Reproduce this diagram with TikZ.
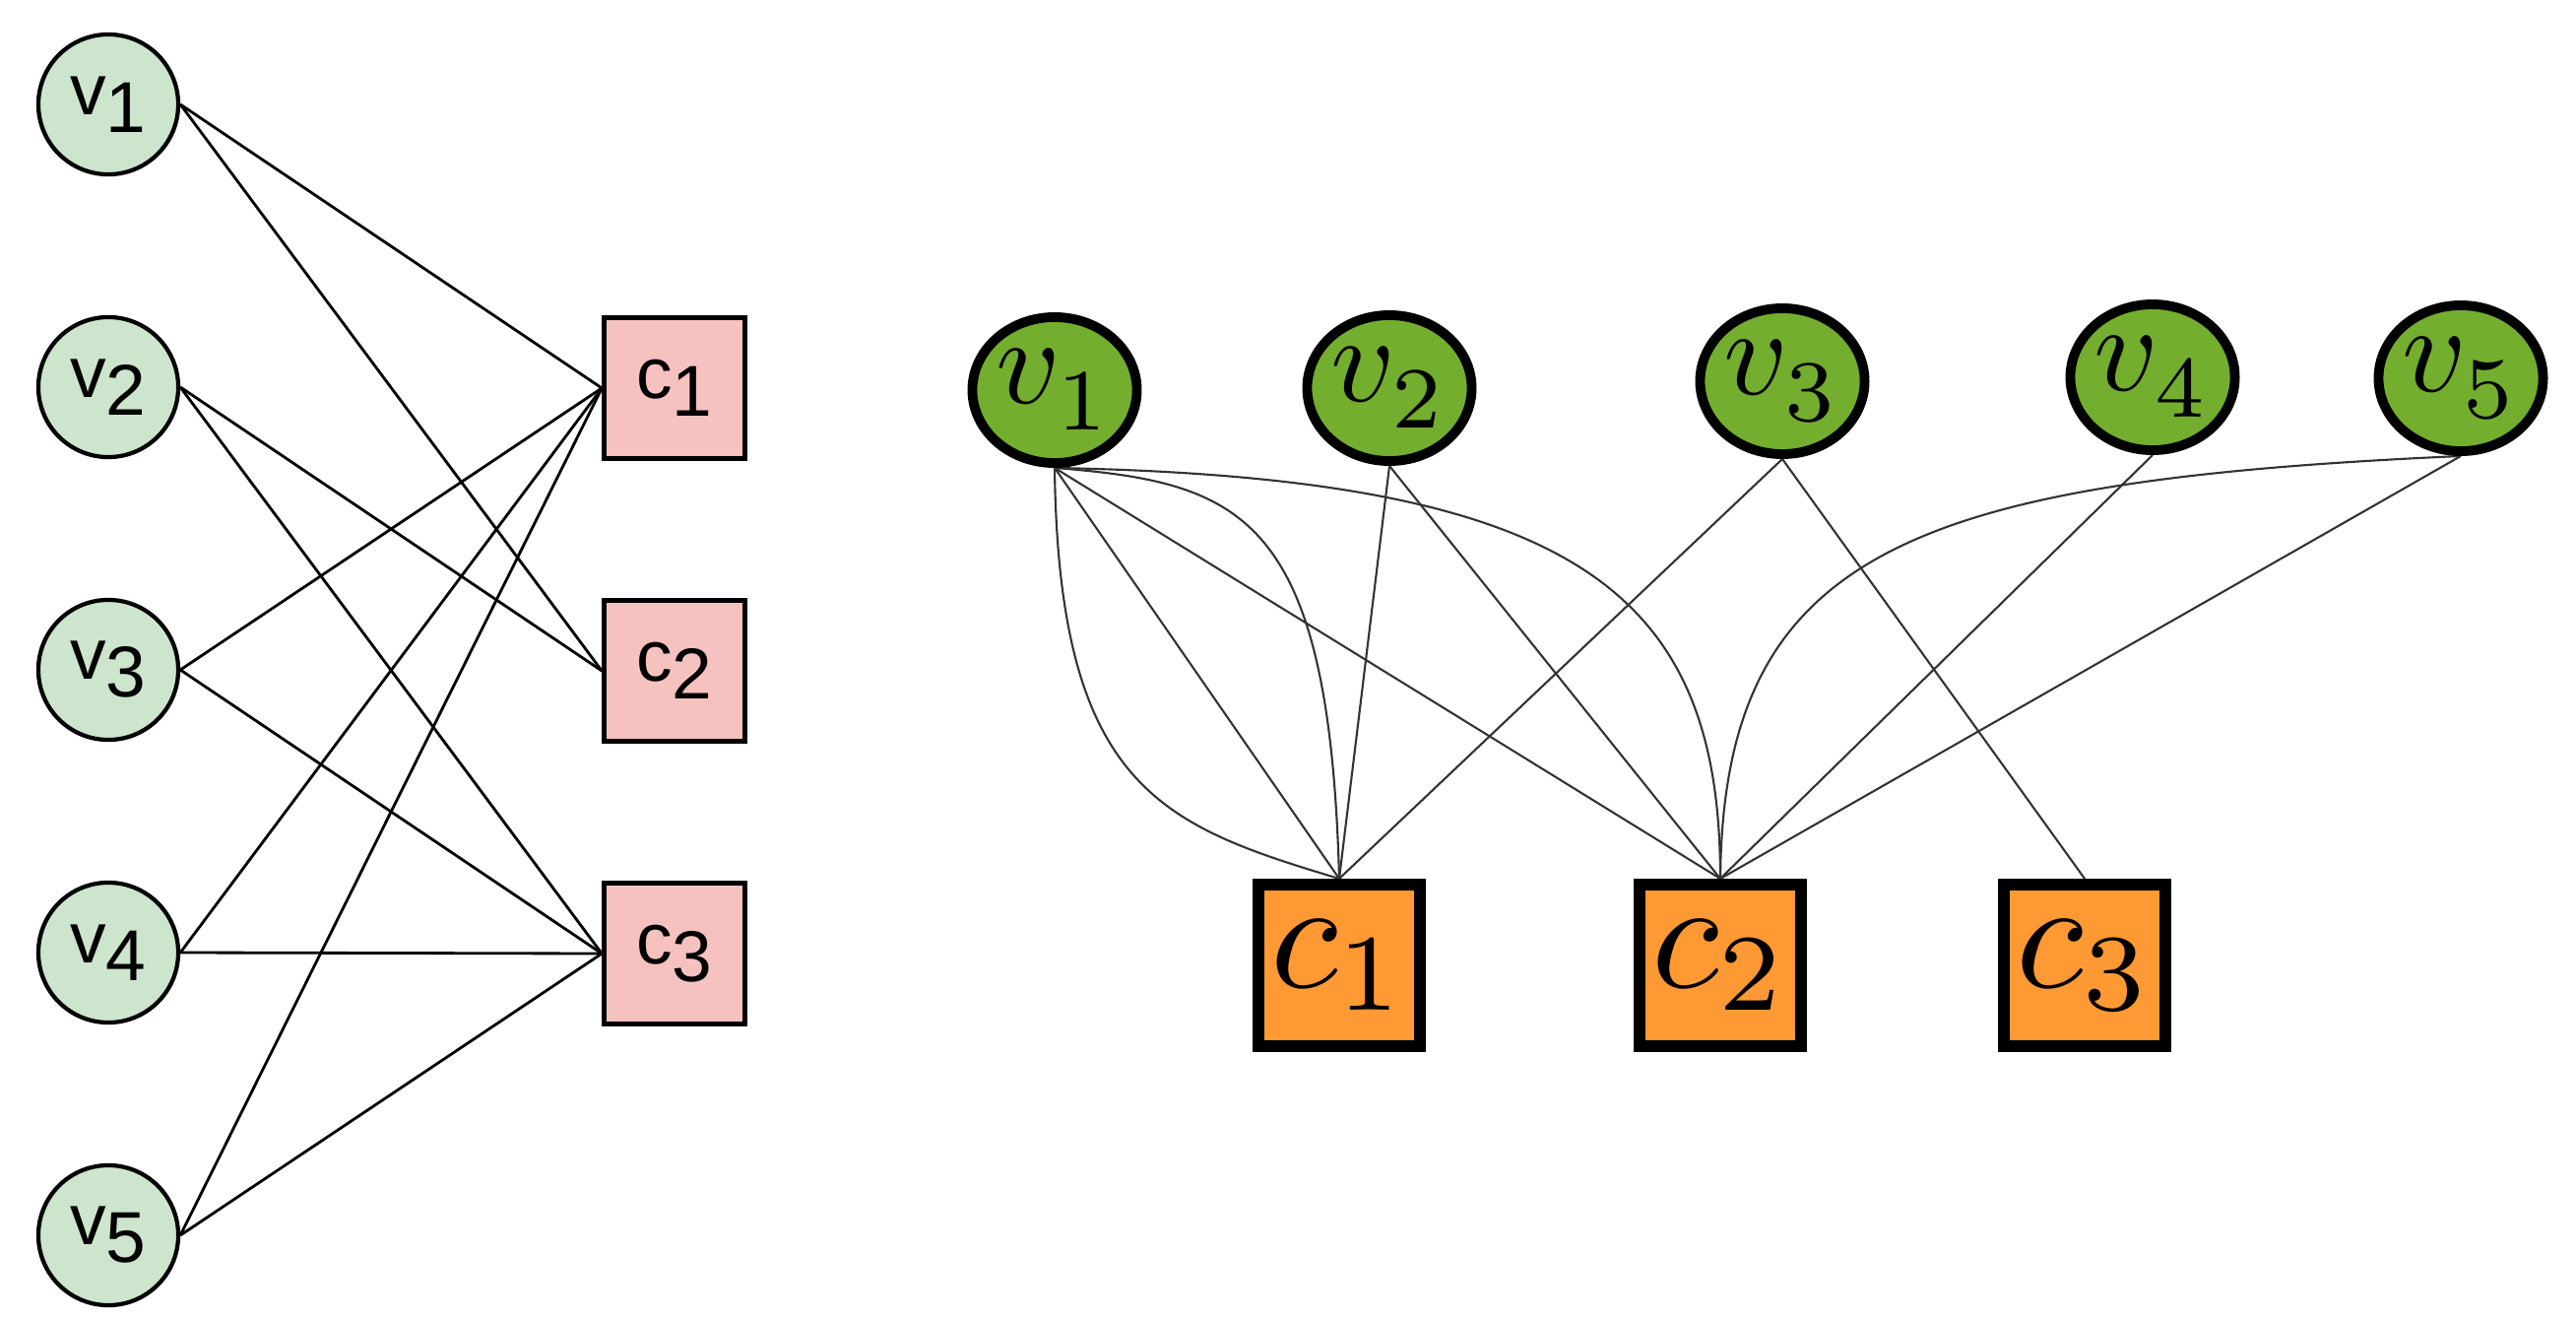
\documentclass[tikz,border=0pt]{standalone}
\usepackage{graphicx}
\usepackage{fontspec}
\newfontfamily\arialf{Liberation Sans}
\usetikzlibrary{shapes.geometric}
\pgfdeclarelayer{bg}
\pgfsetlayers{bg,main}
\definecolor{lgreen}{RGB}{204,229,204}
\definecolor{lpink}{RGB}{245,194,192}
\definecolor{dgreen}{RGB}{115,174,46}
\definecolor{orng}{RGB}{255,153,51}
\tikzset{
  lvar/.style={circle, draw=black, line width=1.2pt, fill=lgreen, minimum size=1.42cm, inner sep=0pt, font=\arialf\fontsize{20.8pt}{24pt}\selectfont},
  lchk/.style={rectangle, draw=black, line width=1.3pt, fill=lpink, minimum size=1.43cm, inner sep=0pt, font=\arialf\fontsize{20.8pt}{24pt}\selectfont},
  rvar/.style={ellipse, draw=black, line width=2.8pt, fill=dgreen, minimum width=1.66cm, minimum height=1.48cm, inner sep=0pt},
  rchk/.style={rectangle, draw=black, line width=3.4pt, fill=orng, minimum size=1.64cm, inner sep=0pt},
  ledge/.style={line width=0.8pt, black},
  redge/.style={line width=0.6pt, black!80},
}
\newcommand{\lv}[1]{v\raisebox{-0.18cm}{#1}\hspace{0.16cm}}
\newcommand{\lc}[1]{c\raisebox{-0.18cm}{#1}}
\newcommand{\rv}[1]{\scalebox{3.6}{$v_{\raisebox{-0.6pt}{$\scriptstyle #1$}}$}}
\newcommand{\rc}[1]{\scalebox{4.5}{$c_{#1}$}}
\begin{document}
\begin{tikzpicture}[x=0.01cm, y=-0.01cm]
\useasboundingbox (0,0) rectangle (2616,1340);
% left graph
\node[lvar] (lv1) at (110,106) {\lv{1}};
\node[lvar] (lv2) at (110,393) {\lv{2}};
\node[lvar] (lv3) at (110,680) {\lv{3}};
\node[lvar] (lv4) at (110,967) {\lv{4}};
\node[lvar] (lv5) at (110,1254) {\lv{5}};
\node[lchk] (lc1) at (685,394) {\lc{1}};
\node[lchk] (lc2) at (685,681) {\lc{2}};
\node[lchk] (lc3) at (685,968) {\lc{3}};
\begin{pgfonlayer}{bg}
\draw[ledge] (lv1.east) -- (lc1.west);
\draw[ledge] (lv1.east) -- (lc2.west);
\draw[ledge] (lv2.east) -- (lc2.west);
\draw[ledge] (lv2.east) -- (lc3.west);
\draw[ledge] (lv3.east) -- (lc1.west);
\draw[ledge] (lv3.east) -- (lc3.west);
\draw[ledge] (lv4.east) -- (lc1.west);
\draw[ledge] (lv4.east) -- (lc3.west);
\draw[ledge] (lv5.east) -- (lc1.west);
\draw[ledge] (lv5.east) -- (lc3.west);
\end{pgfonlayer}
% right graph
\node[rvar] (rv1) at (1071,396) {\rv{1}};
\node[rvar] (rv2) at (1411,394) {\rv{2}};
\node[rvar] (rv3) at (1810,387) {\rv{3}};
\node[rvar] (rv4) at (2186,383) {\rv{4}};
\node[rvar] (rv5) at (2499,384) {\rv{5}};
\node[rchk] (rc1) at (1360,980) {\rc{1}};
\node[rchk] (rc2) at (1747,980) {\rc{2}};
\node[rchk] (rc3) at (2117,980) {\rc{3}};
\begin{pgfonlayer}{bg}
\draw[redge] (rv1.south) -- (rc1.north);
\draw[redge] (rv1.south) .. controls (1075,800) and (1180,838) .. (rc1.north);
\draw[redge] (rv1.south) .. controls (1260,490) and (1350,520) .. (rc1.north);
\draw[redge] (rv1.south) -- (rc2.north);
\draw[redge] (rv1.south) .. controls (1600,485) and (1747,600) .. (rc2.north);
\draw[redge] (rv2.south) -- (rc1.north);
\draw[redge] (rv2.south) -- (rc2.north);
\draw[redge] (rv3.south) -- (rc1.north);
\draw[redge] (rv3.south) -- (rc3.north);
\draw[redge] (rv4.south) -- (rc2.north);
\draw[redge] (rv5.south) -- (rc2.north);
\draw[redge] (rv5.south) .. controls (1940,488) and (1750,560) .. (rc2.north);
\end{pgfonlayer}
\end{tikzpicture}
\end{document}
